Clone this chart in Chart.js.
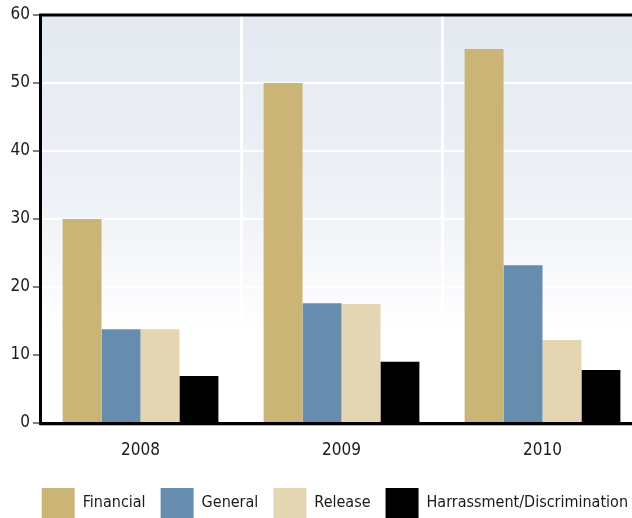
<!DOCTYPE html>
<html>
<head>
<meta charset="utf-8">
<script src="https://cdn.jsdelivr.net/npm/chart.js@4/dist/chart.umd.min.js"></script>
<style>
  html, body { margin: 0; padding: 0; background: #fff; overflow: hidden; }
  #wrap { width: 643px; height: 528px; }
</style>
</head>
<body>
<div id="wrap"><canvas id="myChart"></canvas></div>
<script>
  const years = ["2008", "2009", "2010"];
  const financial = [30, 50, 55];
  const general = [13.8, 17.6, 23.2];
  const release = [13.8, 17.5, 12.2];
  const harassment = [6.9, 9.0, 7.8];
  const yTicks = [0, 10, 20, 30, 40, 50, 60];

  const fontFamily = "'Liberation Sans Narrow', 'DejaVu Sans Condensed', sans-serif";

  // fond en dégradé + cadre du haut
  const framePlugin = {
    id: 'frame',
    beforeDraw(chart) {
      const { ctx, chartArea: a } = chart;
      const g = ctx.createLinearGradient(0, a.top, 0, a.bottom);
      g.addColorStop(0, '#e4e9f1');
      g.addColorStop(0.45, '#eef1f6');
      g.addColorStop(0.78, '#ffffff');
      g.addColorStop(1, '#ffffff');
      ctx.save();
      ctx.fillStyle = g;
      ctx.fillRect(a.left, a.top, a.right - a.left, a.bottom - a.top);
      ctx.restore();
    },
    afterDraw(chart) {
      const { ctx, chartArea: a } = chart;
      ctx.save();
      ctx.strokeStyle = '#000';
      ctx.lineWidth = 3;
      ctx.beginPath();
      ctx.moveTo(a.left - 1, a.top);
      ctx.lineTo(a.right, a.top);
      ctx.stroke();
      ctx.strokeStyle = '#b5b5b5';
      ctx.lineWidth = 1;
      ctx.beginPath();
      ctx.moveTo(a.left, a.bottom + 2.5);
      ctx.lineTo(a.right, a.bottom + 2.5);
      ctx.stroke();
      ctx.restore();
    }
  };

  const ctx = document.getElementById('myChart').getContext('2d');
  new Chart(ctx, {
    type: 'bar',
    data: {
      labels: years,
      datasets: [
        { label: 'Financial', data: financial, backgroundColor: '#cbb576' },
        { label: 'General', data: general, backgroundColor: '#668dae' },
        { label: 'Release', data: release, backgroundColor: '#e4d6b2' },
        { label: 'Harrassment/Discrimination', data: harassment, backgroundColor: '#000000' }
      ]
    },
    options: {
      responsive: true,
      maintainAspectRatio: false,
      animation: false,
      datasets: {
        bar: { barPercentage: 1, categoryPercentage: 0.775, borderWidth: 0 }
      },
      layout: { padding: { top: 15, left: 0, right: 0, bottom: 0 } },
      plugins: {
        tooltip: { enabled: false },
        legend: {
          position: 'bottom',
          align: 'end',
          labels: {
            boxWidth: 33,
            boxHeight: 30,
            padding: 15,
            color: '#1a1a1a',
            font: { family: fontFamily, size: 16 }
          }
        }
      },
      scales: {
        x: {
          afterFit(scale) { scale.height = 50; },
          border: { display: true, color: '#000', width: 3 },
          grid: { color: '#ffffff', lineWidth: 3, drawTicks: false, offset: true },
          ticks: {
            padding: 17,
            color: '#1a1a1a',
            font: { family: fontFamily, size: 17 }
          }
        },
        y: {
          min: 0,
          max: 60,
          afterFit(scale) { scale.width = 40; },
          afterBuildTicks(scale) { scale.ticks = yTicks.map(v => ({ value: v })); },
          border: { display: true, color: '#000', width: 3 },
          grid: { color: '#ffffff', lineWidth: 2, tickColor: '#555', tickLength: 7, tickWidth: 1.5 },
          ticks: {
            padding: 3,
            color: '#1a1a1a',
            font: { family: fontFamily, size: 17 }
          }
        }
      }
    },
    plugins: [framePlugin]
  });
</script>
</body>
</html>
